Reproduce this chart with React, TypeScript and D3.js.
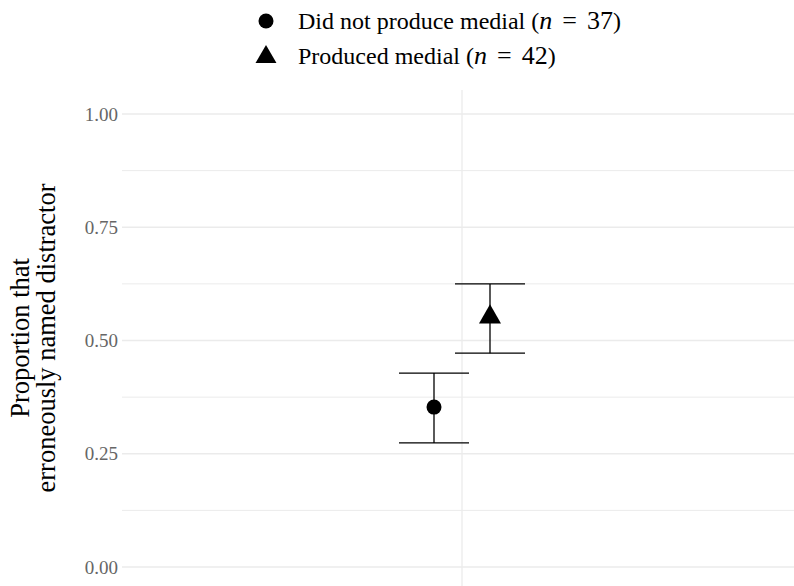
import React from "react";
import * as d3 from "d3";

const groups = ["Did not produce medial", "Produced medial"];
const groupN = [37, 42];
const shapes = ["circle", "triangle"];
const means = [0.353, 0.554];
const lower = [0.274, 0.472];
const upper = [0.428, 0.625];
const category = ["all"];
const yTicks = [0, 0.25, 0.5, 0.75, 1.0];
const yMinor = [0.125, 0.375, 0.625, 0.875];

const W = 794;
const H = 586;
const FONT = "'Liberation Serif', 'DejaVu Serif', serif";

export default function App() {
  const y = d3.scaleLinear().domain([0, 1]).range([567, 114]);
  const x = d3.scaleBand().domain(category).range([122, 802]);
  const dodge = d3.scaleBand().domain(groups).range([-56, 56]).padding(0);
  const cx = (i: number) => x(category[0])! + x.bandwidth() / 2 + dodge(groups[i])! + dodge.bandwidth() / 2;
  const whisker = 35;
  const tri = d3.symbol().type(d3.symbolTriangle).size(210)();
  const legTri = d3.symbol().type(d3.symbolTriangle).size(190)();

  return (
    <svg width={W} height={H} style={{ display: "block", position: "absolute", left: 0, top: 0 }} fontFamily={FONT}>
      <rect width={W} height={H} fill="#fff" />
      {yMinor.map((t) => (
        <line key={"m" + t} x1={122} x2={W} y1={y(t)} y2={y(t)} stroke="#ebebeb" strokeWidth={1} />
      ))}
      {yTicks.map((t) => (
        <line key={"g" + t} x1={122} x2={W} y1={y(t)} y2={y(t)} stroke="#ebebeb" strokeWidth={1.3} />
      ))}
      <line x1={x(category[0])! + x.bandwidth() / 2} x2={x(category[0])! + x.bandwidth() / 2} y1={90} y2={H} stroke="#ebebeb" strokeWidth={1.3} />
      {yTicks.map((t) => (
        <text key={"t" + t} x={118} y={y(t)} dy="0.35em" textAnchor="end" fontSize={19} fill="#666">
          {d3.format(".2f")(t)}
        </text>
      ))}
      <g transform={`translate(0, 338) rotate(-90)`}>
        <text x={0} y={29} textAnchor="middle" fontSize={26.5} fill="#000">Proportion that</text>
        <text x={0} y={55} textAnchor="middle" fontSize={26.5} fill="#000">erroneously named distractor</text>
      </g>
      {groups.map((g, i) => {
        const px = cx(i);
        return (
          <g key={g}>
            <line x1={px} x2={px} y1={y(upper[i])} y2={y(lower[i])} stroke="#000" strokeWidth={1.3} />
            <line x1={px - whisker} x2={px + whisker} y1={y(upper[i])} y2={y(upper[i])} stroke="#000" strokeWidth={1.3} />
            <line x1={px - whisker} x2={px + whisker} y1={y(lower[i])} y2={y(lower[i])} stroke="#000" strokeWidth={1.3} />
            {shapes[i] === "circle" ? (
              <circle cx={px} cy={y(means[i])} r={7.5} fill="#000" />
            ) : (
              <path d={tri!} transform={`translate(${px},${y(means[i]) + 1})`} fill="#000" />
            )}
          </g>
        );
      })}
      {groups.map((g, i) => {
        const ly = 21 + i * 35;
        return (
          <g key={"l" + g}>
            {shapes[i] === "circle" ? (
              <circle cx={266} cy={ly} r={7.5} fill="#000" />
            ) : (
              <path d={legTri!} transform={`translate(266,${ly + 1})`} fill="#000" />
            )}
            <text x={298} y={ly} dy="0.35em" fontSize={24} fill="#000">
              {g} (<tspan fontStyle="italic" fontSize={26}>n</tspan>
              <tspan dx={10} fontSize={26}>=</tspan>
              <tspan dx={10} fontSize={26}>{groupN[i]}</tspan>)
            </text>
          </g>
        );
      })}
    </svg>
  );
}
